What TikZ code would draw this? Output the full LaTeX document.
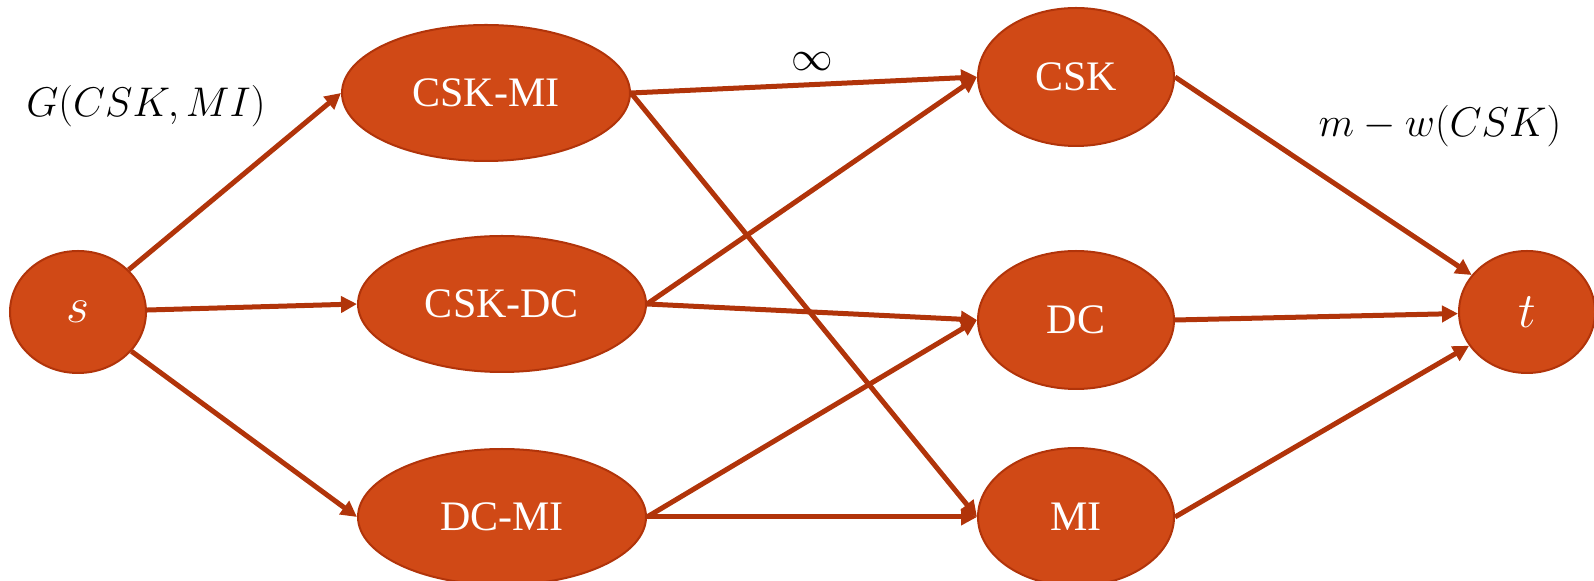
\documentclass[tikz,border=0pt]{standalone}
\usepackage{fontspec}
\setmainfont{Liberation Serif}
\usetikzlibrary{arrows.meta,shapes.geometric}

\definecolor{rust}{RGB}{208,73,22}
\definecolor{rustline}{RGB}{177,52,10}

\tikzset{
    vert/.style={ellipse,draw=rustline,line width=1pt,fill=rust,text=white,
        inner sep=0pt,font=\fontsize{21}{25}\selectfont},
    pair/.style={vert,minimum width=144pt,minimum height=68pt},
    single/.style={vert,minimum width=98pt,minimum height=69pt},
    term/.style={vert,minimum width=68pt,minimum height=61pt,font=\fontsize{27}{30}\selectfont},
    weight/.style={font=\fontsize{21}{25}\selectfont}
}

\begin{document}
\begin{tikzpicture}[x=0.5pt,y=-0.5pt,>={Triangle[length=8pt,width=8pt]},
    every edge/.style={draw=rustline,line width=2.5pt}]
    \useasboundingbox (0,0) rectangle (1594,581);
    \node[term]    (s)    at (78,312)    {$s$};
    \node[pair]    (CSKMI) at (486,93)   {CSK-MI};
    \node[pair]    (CSKDC) at (502,304)  {CSK-DC};
    \node[pair]    (DCMI)  at (502,517)  {DC-MI};
    \node[single]  (CSK)   at (1076,77)  {CSK};
    \node[single]  (DC)    at (1076,320) {DC};
    \node[single]  (MI)    at (1076,517) {MI};
    \node[term]    (t)     at (1527,312) {$t$};

    \node[weight] (gain) at (146,106)  {$G(CSK,MI)$};
    \node[weight] (inf)  at (812,62)   {$\infty$};
    \node[weight] (cost) at (1440,126) {$m-w(CSK)$};

    \path[->]   (s)          edge (CSKMI.west)
                (s)          edge (CSKDC.west)
                (s)          edge (DCMI.west)
                (CSKMI.east) edge (CSK.west)
                (CSKMI.east) edge (MI.west)
                (CSKDC.east) edge (CSK.west)
                (CSKDC.east) edge (DC.west)
                (DCMI.east)  edge (DC.west)
                (DCMI.east)  edge (MI.west)
                (CSK.east)   edge (t)
                (DC.east)    edge (t)
                (MI.east)    edge (t)
                ;
\end{tikzpicture}
\end{document}
